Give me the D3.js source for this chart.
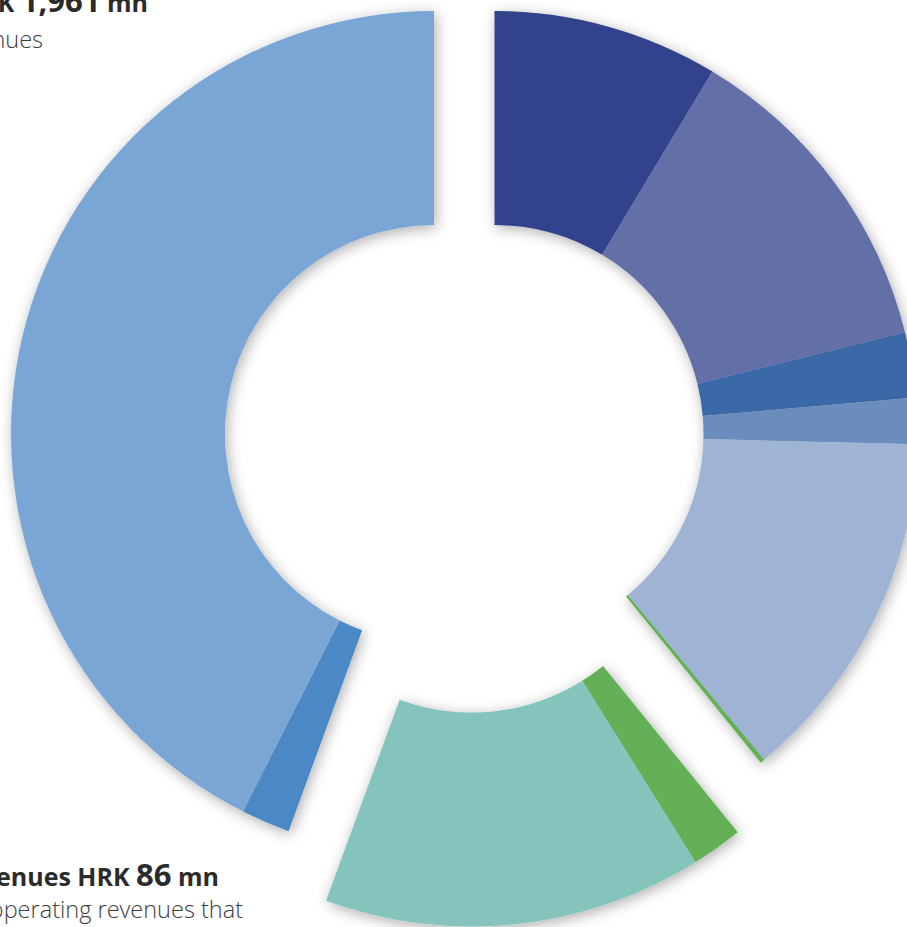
<!DOCTYPE html>
<html>
<head>
<meta charset="utf-8">
<script src="https://cdn.jsdelivr.net/npm/d3@7"></script>
<style>
  html, body { margin: 0; padding: 0; background: #ffffff; overflow: hidden; }
  svg { display: block; }
  .lbl-strong { font-family: "Open Sans", sans-serif; font-weight: 700; fill: #2b2b2b; }
  .lbl-light { font-family: "Open Sans", sans-serif; font-weight: 300; fill: #3c3c3c; }
</style>
</head>
<body>
<script>
// Revenue breakdown, HRK mn, in drawing order (clockwise from 12 o'clock)
const categories = [
  "Segment A", "Segment B", "Segment C", "Segment D", "Segment E",
  "Segment F", "Segment G", "Segment H", "Other revenues", "Core revenues"
];
const valuesMn = [397, 577, 115, 81, 627, 8, 90, 667, 86, 1961];
// Which pulled-out block each segment belongs to
const blockOf = ["right", "right", "right", "right", "right", "right", "bottom", "bottom", "left", "left"];

const palette = [
  "#31428c", "#6470a8", "#3a69a8", "#6b8dbd", "#9fb4d4",
  "#63b056", "#63b056", "#85c4bd", "#4b88c6", "#7aa6d5"
];

const width = 907, height = 927;
const innerR = 209, outerR = 423;
// Centre of each pulled-out block
const blockCentre = {
  right:  [494.5, 434],
  bottom: [471.5, 503.5],
  left:   [434, 434]
};

const svg = d3.select("body").append("svg")
  .attr("width", width).attr("height", height);

const defs = svg.append("defs");
const shadow = defs.append("filter").attr("id", "soft-shadow")
  .attr("x", "-20%").attr("y", "-20%").attr("width", "140%").attr("height", "140%");
shadow.append("feDropShadow")
  .attr("dx", 2).attr("dy", 3).attr("stdDeviation", 7)
  .attr("flood-color", "#000").attr("flood-opacity", 0.32);

const color = d3.scaleOrdinal().domain(categories).range(palette);

const rows = categories.map((c, i) => ({ name: c, value: valuesMn[i], block: blockOf[i] }));
const pie = d3.pie().sort(null).value(d => d.value).startAngle(0).endAngle(2 * Math.PI);
const arcs = pie(rows);
const arc = d3.arc().innerRadius(innerR).outerRadius(outerR);

const blocks = d3.groups(arcs, d => d.data.block);
const blockG = svg.selectAll("g.block")
  .data(blocks)
  .join("g")
  .attr("class", "block")
  .attr("transform", ([key]) => `translate(${blockCentre[key][0]},${blockCentre[key][1]})`)
  .attr("filter", "url(#soft-shadow)");

blockG.selectAll("path")
  .data(([, items]) => items)
  .join("path")
  .attr("d", arc)
  .attr("fill", d => color(d.data.name));

// Value callouts
function callout(x, y, head, value, tail) {
  const t = svg.append("text").attr("class", "lbl-strong")
    .attr("x", x).attr("y", y).attr("text-anchor", "end");
  t.append("tspan").attr("font-size", 25).text(head);
  t.append("tspan").attr("font-size", 31).text(value);
  t.append("tspan").attr("font-size", 25).text(tail);
  return t;
}
const fmt = d3.format(",");

callout(148, 12, "Core revenues HRK ", fmt(valuesMn[9]), " mn");
svg.append("text").attr("class", "lbl-light")
  .attr("x", 43).attr("y", 48).attr("text-anchor", "end")
  .attr("font-size", 23.5).text("of total revenues");

callout(219, 886, "Other revenues HRK ", fmt(valuesMn[8]), " mn");
svg.append("text").attr("class", "lbl-light")
  .attr("x", 243).attr("y", 918).attr("text-anchor", "end")
  .attr("font-size", 23.5).text("non-operating revenues that");
</script>
</body>
</html>
